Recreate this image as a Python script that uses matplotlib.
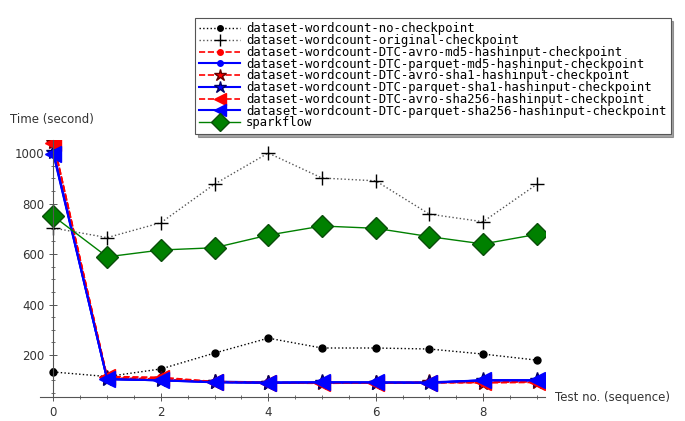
import numpy as np
import matplotlib.pyplot as plt
from matplotlib.ticker import MultipleLocator

# test numbers
x = list(range(10))

# times in seconds
no_ckpt = [133, 115, 145, 208, 267, 228, 228, 224, 204, 180]
orig_ckpt = [703, 665, 724, 877, 1000, 901, 890, 758, 728, 876]
avro_md5 = [1040, 115, 112, 95, 92, 90, 90, 92, 92, 95]
parquet_md5 = [1000, 105, 100, 95, 92, 92, 92, 92, 100, 100]
avro_sha1 = [1045, 110, 105, 93, 90, 88, 90, 92, 90, 92]
parquet_sha1 = [1005, 105, 100, 93, 90, 92, 90, 90, 100, 100]
avro_sha256 = [1040, 112, 108, 95, 90, 90, 90, 90, 92, 95]
parquet_sha256 = [995, 105, 100, 92, 90, 92, 92, 90, 100, 100]
sparkflow = [750, 589, 616, 625, 675, 711, 702, 669, 640, 678]

labels = [
    "dataset-wordcount-no-checkpoint",
    "dataset-wordcount-original-checkpoint",
    "dataset-wordcount-DTC-avro-md5-hashinput-checkpoint",
    "dataset-wordcount-DTC-parquet-md5-hashinput-checkpoint",
    "dataset-wordcount-DTC-avro-sha1-hashinput-checkpoint",
    "dataset-wordcount-DTC-parquet-sha1-hashinput-checkpoint",
    "dataset-wordcount-DTC-avro-sha256-hashinput-checkpoint",
    "dataset-wordcount-DTC-parquet-sha256-hashinput-checkpoint",
    "sparkflow",
]

fig = plt.figure(figsize=(6.85, 4.21), dpi=100)
ax = fig.add_axes([0.0584, 0.057, 0.737, 0.6095])

ax.plot(x, no_ckpt, ls=':', color='black', lw=1, marker='o', ms=5, label=labels[0])
ax.plot(x, orig_ckpt, ls=':', color='#555555', lw=1, marker='+', ms=10, mec='black', label=labels[1])
ax.plot(x, avro_md5, ls='--', color='red', lw=1.2, marker='o', ms=5, label=labels[2])
ax.plot(x, parquet_md5, ls='-', color='blue', lw=1.5, marker='o', ms=5, label=labels[3])
ax.plot(x, avro_sha1, ls='--', color='red', lw=1.2, marker='*', ms=11, mec='#660000', label=labels[4])
ax.plot(x, parquet_sha1, ls='-', color='blue', lw=1.5, marker='*', ms=11, mec='#000066', label=labels[5])
ax.plot(x, avro_sha256, ls='--', color='red', lw=1.2, marker='<', ms=11, label=labels[6])
ax.plot(x, parquet_sha256, ls='-', color='blue', lw=1.5, marker='<', ms=11, label=labels[7])
ax.plot(x, sparkflow, ls='-', color='green', lw=1, marker='D', ms=11, mfc='green', mec='#0a4d0a', label=labels[8])

ax.set_xlim(-0.25, 9.15)
ax.set_ylim(34, 1050)

# sage-style crossing axes
ax.spines['top'].set_visible(False)
ax.spines['right'].set_visible(False)
ax.spines['left'].set_position(('data', 0))
ax.spines['bottom'].set_position(('data', 34))
for s in ('left', 'bottom'):
    ax.spines[s].set_color('#555555')
    ax.spines[s].set_linewidth(0.8)

ax.xaxis.set_major_locator(MultipleLocator(2))
ax.xaxis.set_minor_locator(MultipleLocator(0.5))
ax.yaxis.set_major_locator(MultipleLocator(200))
ax.yaxis.set_minor_locator(MultipleLocator(50))
ax.set_yticks([200, 400, 600, 800, 1000])
ax.tick_params(which='major', direction='inout', length=6, width=0.7, color='#555555',
               labelsize=8.5, labelcolor='#333333')
ax.tick_params(which='minor', direction='inout', length=3, width=0.6, color='#555555')

fig.text(10 / 685, 1 - 120 / 421, "Time (second)", fontsize=8.5, color='#333333', va='center', ha='left')
fig.text(555 / 685, 1 - 398 / 421, "Test no. (sequence)", fontsize=8.5, color='#333333', va='center', ha='left')

leg = ax.legend(loc='upper left', bbox_to_anchor=(195 / 685, 1 - 18 / 421),
                bbox_transform=fig.transFigure, borderaxespad=0,
                prop={'family': 'DejaVu Sans Mono', 'size': 8.85},
                handlelength=3.3, labelspacing=-0.1, borderpad=0.35, handletextpad=0.5,
                fancybox=False, shadow=True, framealpha=1, markerscale=0.8)
leg.get_frame().set_edgecolor('#555555')
leg.get_frame().set_linewidth(0.8)

fig.savefig('out.png', dpi=100)
